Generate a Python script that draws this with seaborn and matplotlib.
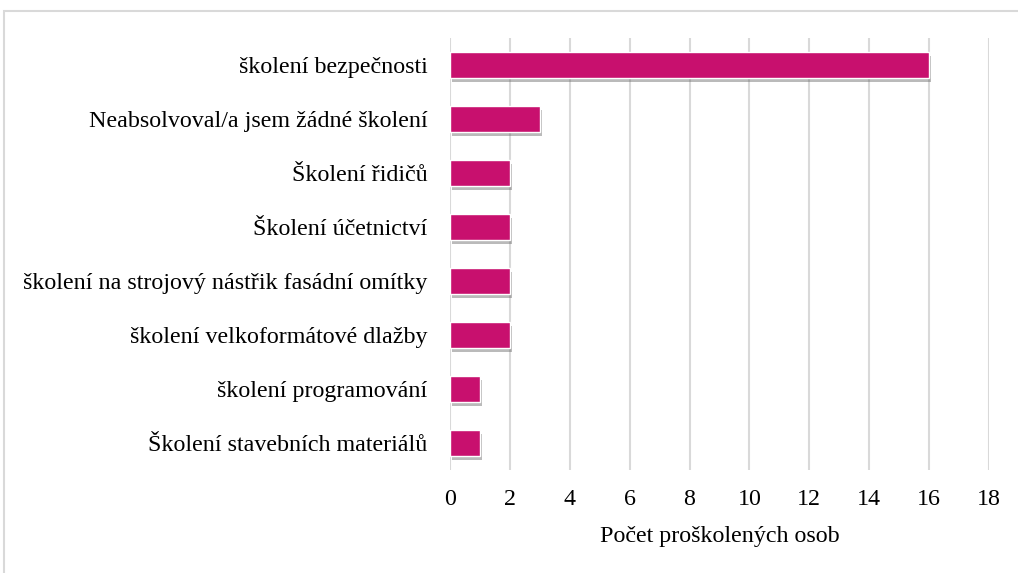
import matplotlib
matplotlib.use("Agg")
import matplotlib.pyplot as plt
import matplotlib.patheffects as pe
from matplotlib.patches import Rectangle
import seaborn as sns
import pandas as pd

categories = [
    "školení bezpečnosti",
    "Neabsolvoval/a jsem žádné školení",
    "Školení řidičů",
    "Školení účetnictví",
    "školení na strojový nástřik fasádní omítky",
    "školení velkoformátové dlažby",
    "školení programování",
    "Školení stavebních materiálů",
]
counts = [16, 3, 2, 2, 2, 2, 1, 1]
x_ticks = [0, 2, 4, 6, 8, 10, 12, 14, 16, 18]

df = pd.DataFrame({"kategorie": categories, "pocet": counts})

sns.set_style("white")
plt.rcParams["font.family"] = ["Liberation Serif", "DejaVu Serif"]

fig = plt.figure(figsize=(10.18, 5.73), dpi=100)
ax = fig.add_axes([0.442, 0.18, 0.5295, 0.754])

# light frame around the whole chart
fig.patches.append(Rectangle((0.004, -0.01), 1.1, 0.99, transform=fig.transFigure,
                             fill=False, edgecolor="#d9d9d9", linewidth=1.5))

sns.barplot(data=df, x="pocet", y="kategorie", orient="h", color="#C8106E",
            saturation=1, width=0.49, ax=ax, zorder=3)

# soft drop shadow under the bars
for bar in ax.patches:
    bar.set_path_effects([pe.SimplePatchShadow(offset=(1.5, -3), shadow_rgbFace="#666666", alpha=0.45),
                          pe.Normal()])

ax.set_xlim(0, 18)
ax.set_ylim(7.5, -0.5)
ax.set_xticks(x_ticks)
ax.xaxis.grid(True, color="#d9d9d9", linewidth=1.5, zorder=0)
ax.set_axisbelow(True)
for s in ax.spines.values():
    s.set_visible(False)
ax.tick_params(axis="both", length=0, labelsize=17.3, colors="black")
ax.tick_params(axis="x", pad=14)
ax.tick_params(axis="y", pad=16)
ax.set_ylabel("")
ax.set_xlabel("Počet proškolených osob", fontsize=17.3, labelpad=11, color="black")

fig.savefig("out.png", dpi=100)
